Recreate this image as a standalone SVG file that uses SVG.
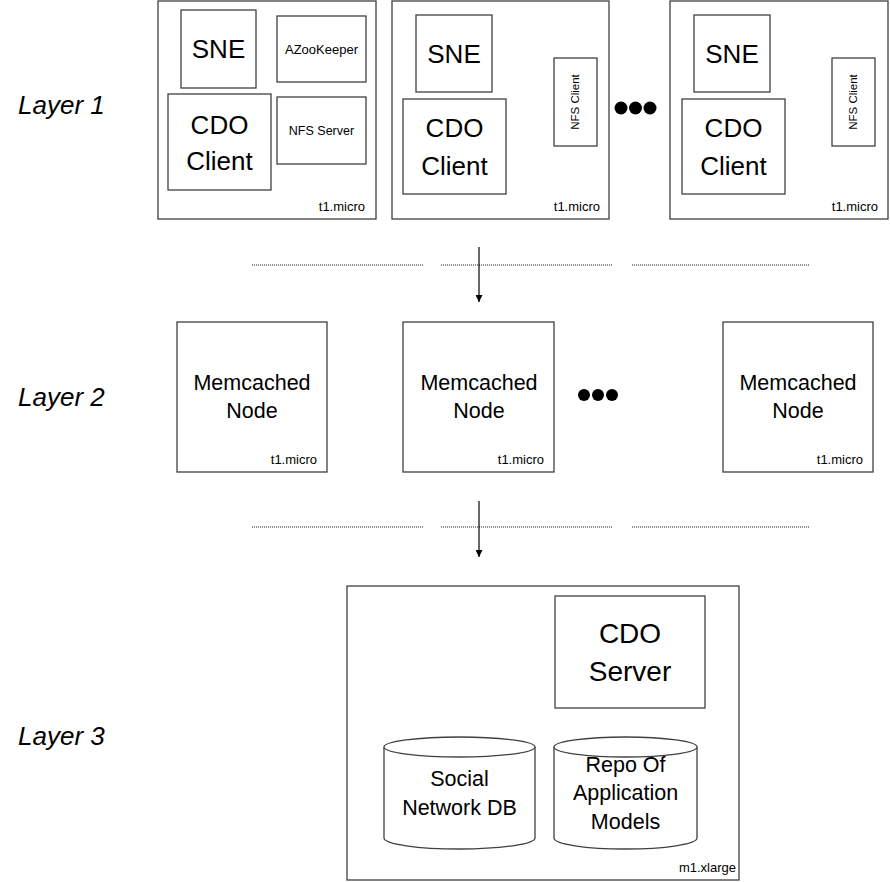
<svg xmlns="http://www.w3.org/2000/svg" width="890" height="882" viewBox="0 0 890 882">
<defs>
<style>
.box{fill:#fff;stroke:#404040;stroke-width:1.3}
.t{font-family:"Liberation Sans",Arial,sans-serif;fill:#000;text-anchor:middle}
.big{font-size:26px}
.mid{font-size:21.5px}
.sm{font-size:13px}
.tag{font-family:"Liberation Sans",Arial,sans-serif;font-size:13px;text-anchor:end;fill:#000}
.layer{font-family:"Liberation Sans",Arial,sans-serif;font-size:26px;font-style:italic;fill:#000}
.dash{stroke:#666;stroke-width:1.5;stroke-dasharray:1 1;fill:none}
.arrow{stroke:#000;stroke-width:1.2;fill:none}
</style>
<marker id="ah" viewBox="0 0 10 10" refX="10" refY="5" markerWidth="7" markerHeight="7" markerUnits="userSpaceOnUse" orient="auto">
<path d="M0,0 L10,5 L0,10 z" fill="#000"/>
</marker>
</defs>
<rect width="890" height="882" fill="#fff"/>

<text class="layer" x="18" y="114">Layer 1</text>
<text class="layer" x="18" y="406">Layer 2</text>
<text class="layer" x="18" y="745">Layer 3</text>

<g id="l1-node1">
<rect class="box" x="158" y="1" width="218" height="218"/>
<rect class="box" x="181" y="10" width="75" height="78"/>
<text class="t big" x="218.5" y="58">SNE</text>
<rect class="box" x="277" y="16" width="89" height="66"/>
<text class="t sm" x="321.5" y="54">AZooKeeper</text>
<rect class="box" x="168" y="94" width="103" height="96"/>
<text class="t big" x="219.5" y="134">CDO</text>
<text class="t big" x="219.5" y="170">Client</text>
<rect class="box" x="277" y="97" width="89" height="67"/>
<text class="t" font-size="12.5" x="321.5" y="135">NFS Server</text>
<text class="tag" x="365" y="211">t1.micro</text>
</g>

<g id="l1-node2">
<rect class="box" x="392" y="1" width="217" height="218"/>
<rect class="box" x="416" y="15" width="76" height="77"/>
<text class="t big" x="454" y="63">SNE</text>
<rect class="box" x="403" y="99" width="103" height="95"/>
<text class="t big" x="454.5" y="137">CDO</text>
<text class="t big" x="454.5" y="175">Client</text>
<rect class="box" x="554" y="58" width="43" height="88"/>
<text class="t" font-size="11.5" transform="translate(579,102) rotate(-90)">NFS Client</text>
<text class="tag" x="600" y="211">t1.micro</text>
</g>

<g id="l1-dots">
<circle cx="621" cy="108" r="6.5" fill="#000"/>
<circle cx="635.5" cy="108" r="6.5" fill="#000"/>
<circle cx="650" cy="108" r="6.5" fill="#000"/>
</g>

<g id="l1-node3">
<rect class="box" x="670" y="1" width="218" height="218"/>
<rect class="box" x="694" y="15" width="76" height="77"/>
<text class="t big" x="732" y="63">SNE</text>
<rect class="box" x="682" y="99" width="103" height="95"/>
<text class="t big" x="733.5" y="137">CDO</text>
<text class="t big" x="733.5" y="175">Client</text>
<rect class="box" x="832" y="58" width="43" height="88"/>
<text class="t" font-size="11.5" transform="translate(857,102) rotate(-90)">NFS Client</text>
<text class="tag" x="878" y="211">t1.micro</text>
</g>

<g id="l2-node1">
<rect class="box" x="177" y="322" width="150" height="150"/>
<text class="t mid" x="252" y="390">Memcached</text>
<text class="t mid" x="252" y="418">Node</text>
<text class="tag" x="317" y="464">t1.micro</text>
</g>
<g id="l2-node2">
<rect class="box" x="403" y="322" width="151" height="150"/>
<text class="t mid" x="479" y="390">Memcached</text>
<text class="t mid" x="479" y="418">Node</text>
<text class="tag" x="544" y="464">t1.micro</text>
</g>
<g id="l2-dots">
<circle cx="584" cy="395" r="6" fill="#000"/>
<circle cx="598" cy="395" r="6" fill="#000"/>
<circle cx="612" cy="395" r="6" fill="#000"/>
</g>
<g id="l2-node3">
<rect class="box" x="723" y="322" width="150" height="150"/>
<text class="t mid" x="798" y="390">Memcached</text>
<text class="t mid" x="798" y="418">Node</text>
<text class="tag" x="863" y="464">t1.micro</text>
</g>

<g id="l3-node">
<rect class="box" x="347" y="586" width="392" height="294"/>
<rect class="box" x="555" y="596" width="150" height="112"/>
<text class="t" font-size="28" x="630" y="643">CDO</text>
<text class="t" font-size="28" x="630" y="681">Server</text>
<g id="social-db">
<path class="box" d="M384,747 L384,838 A75.5,11 0 0 0 535,838 L535,747"/>
<ellipse class="box" cx="459.5" cy="747" rx="75.5" ry="10"/>
<text class="t mid" x="459.5" y="786">Social</text>
<text class="t mid" x="459.5" y="815">Network DB</text>
</g>
<g id="repo-db">
<path class="box" d="M554,747 L554,838 A71.5,11 0 0 0 697,838 L697,747"/>
<ellipse class="box" cx="625.5" cy="747" rx="71.5" ry="10"/>
<text class="t mid" x="625.5" y="772">Repo Of</text>
<text class="t mid" x="625.5" y="800">Application</text>
<text class="t mid" x="625.5" y="829">Models</text>
</g>
<text class="tag" x="736" y="872" font-size="11.5">m1.xlarge</text>
</g>

<g id="connectors">
<line class="dash" x1="252" y1="265" x2="423" y2="265"/>
<line class="dash" x1="441" y1="265" x2="612" y2="265"/>
<line class="dash" x1="632" y1="265" x2="810" y2="265"/>
<line class="arrow" x1="479" y1="247" x2="479" y2="302" marker-end="url(#ah)"/>
<line class="dash" x1="252" y1="527" x2="423" y2="527"/>
<line class="dash" x1="441" y1="527" x2="612" y2="527"/>
<line class="dash" x1="632" y1="527" x2="810" y2="527"/>
<line class="arrow" x1="479" y1="501" x2="479" y2="557" marker-end="url(#ah)"/>
</g>
</svg>
